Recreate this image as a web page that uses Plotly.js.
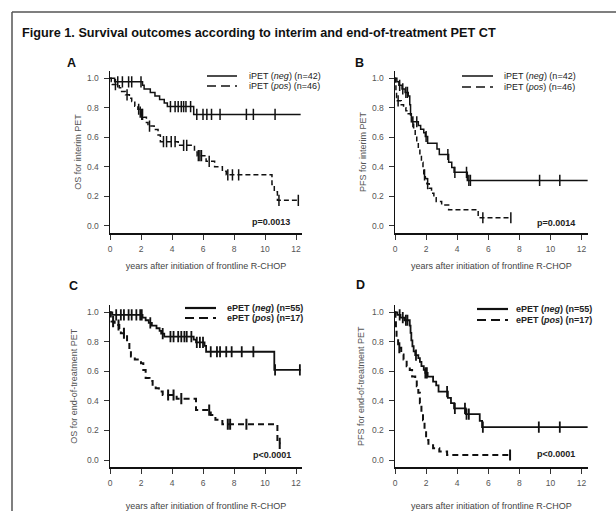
<!DOCTYPE html>
<html>
<head>
<meta charset="utf-8">
<script src="https://cdn.plot.ly/plotly-3.0.1.min.js"></script>
<style>html,body{margin:0;padding:0;background:#fff;}#chart{width:616px;height:511px;}</style>
</head>
<body>
<div id="chart"></div>
<script>
// ---------- DATA ----------
const figTitle = 'Figure 1. Survival outcomes according to interim and end-of-treatment PET CT';
const panelLetters = ['A', 'B', 'C', 'D'];
const yTitles = ['OS for interim PET', 'PFS for interim PET', 'OS for end-of-treatment PET', 'PFS for end-of-treatment PET'];
const xTitle = 'years after initiation of frontline R-CHOP';
const pValues = ['p=0.0013', 'p=0.0014', 'p&lt;0.0001', 'p&lt;0.0001'];
const legendAB = ['iPET (<i>neg</i>) (n=42)', 'iPET (<i>pos</i>) (n=46)'];
const legendCD = ['ePET (<i>neg</i>) (n=55)', 'ePET (<i>pos</i>) (n=17)'];
const xTicks = [0, 2, 4, 6, 8, 10, 12];
const yTicks = [0, 0.2, 0.4, 0.6, 0.8, 1.0];

// Panel A: OS, interim PET
const A_negTime = [0, 0.3, 2.1, 2.2, 2.6, 2.9, 3.2, 3.5, 3.7, 5.4, 12.3];
const A_negSurv = [1.0, 0.976, 0.952, 0.928, 0.904, 0.88, 0.856, 0.832, 0.808, 0.755, 0.755];
const A_negCens = [0.5, 0.8, 1.2, 1.4, 2.0, 3.9, 4.2, 4.4, 4.6, 4.75, 4.9, 5.2, 5.6, 6.0, 6.25, 6.55, 7.1, 8.8, 9.25, 10.65];
const A_posTime = [0, 0.08, 0.15, 0.6, 0.75, 1.0, 1.25, 1.4, 1.6, 1.8, 1.9, 2.0, 2.15, 2.35, 2.45, 2.85, 3.1, 3.25, 4.4, 5.45, 5.62, 6.2, 6.75, 7.25, 7.5, 10.45, 10.6, 10.8, 12.15];
const A_posSurv = [1.0, 0.978, 0.957, 0.935, 0.91, 0.888, 0.865, 0.843, 0.81, 0.79, 0.77, 0.755, 0.735, 0.70, 0.676, 0.652, 0.615, 0.57, 0.545, 0.50, 0.475, 0.437, 0.40, 0.37, 0.345, 0.28, 0.23, 0.172, 0.172];
const A_posCens = [0.35, 1.1, 1.85, 1.95, 2.05, 2.1, 2.55, 3.45, 3.65, 3.95, 4.2, 4.75, 4.95, 5.7, 5.8, 5.9, 6.4, 7.6, 7.9, 8.3, 10.9, 12.15];

// Panel B: PFS, interim PET
const B_negTime = [0, 0.12, 0.25, 0.45, 0.65, 0.85, 0.95, 1.0, 1.05, 1.5, 1.65, 1.85, 1.95, 2.1, 2.7, 2.85, 3.45, 3.65, 3.8, 4.65, 12.4];
const B_negSurv = [1.0, 0.976, 0.952, 0.928, 0.904, 0.88, 0.82, 0.76, 0.705, 0.68, 0.655, 0.63, 0.605, 0.56, 0.52, 0.483, 0.43, 0.395, 0.362, 0.307, 0.307];
const B_negCens = [0.3, 0.5, 0.7, 0.8, 1.15, 1.4, 2.0, 3.4, 3.85, 4.6, 4.75, 4.85, 9.3, 10.6];
const B_posTime = [0, 0.03, 0.06, 0.1, 0.15, 0.4, 0.55, 0.7, 0.85, 1.0, 1.1, 1.2, 1.3, 1.4, 1.5, 1.6, 1.7, 1.8, 1.85, 1.95, 2.05, 2.2, 2.35, 2.5, 2.65, 3.0, 3.45, 5.35, 7.45];
const B_posSurv = [1.0, 0.957, 0.913, 0.87, 0.847, 0.82, 0.80, 0.78, 0.76, 0.74, 0.70, 0.655, 0.61, 0.565, 0.52, 0.475, 0.43, 0.385, 0.345, 0.32, 0.285, 0.255, 0.22, 0.19, 0.165, 0.14, 0.108, 0.054, 0.054];
const B_posCens = [0.2, 1.9, 2.1, 5.65, 7.45];

// Panel C: OS, end-of-treatment PET
const C_negTime = [0, 0.15, 2.1, 2.3, 2.5, 2.7, 3.0, 3.2, 3.3, 3.5, 5.4, 5.55, 6.1, 6.2, 10.6, 12.3];
const C_negSurv = [1.0, 0.982, 0.964, 0.946, 0.928, 0.91, 0.892, 0.874, 0.856, 0.835, 0.815, 0.797, 0.772, 0.733, 0.61, 0.61];
const C_negCens = [0.4, 0.7, 0.9, 1.2, 1.4, 1.7, 1.95, 2.05, 2.6, 3.4, 3.9, 4.1, 4.4, 4.6, 4.8, 4.95, 5.25, 5.6, 5.8, 6.0, 6.5, 6.9, 7.1, 7.5, 7.85, 8.5, 9.25, 10.65, 12.25];
const C_posTime = [0, 0.05, 0.1, 0.3, 0.6, 0.7, 1.1, 1.25, 1.35, 1.6, 2.0, 2.15, 2.3, 2.55, 2.75, 2.95, 3.15, 3.4, 4.3, 5.55, 6.5, 6.8, 7.25, 10.8, 11.0];
const C_posSurv = [1.0, 0.96, 0.937, 0.914, 0.88, 0.858, 0.80, 0.745, 0.70, 0.68, 0.655, 0.61, 0.555, 0.535, 0.51, 0.486, 0.463, 0.44, 0.415, 0.338, 0.305, 0.272, 0.242, 0.113, 0.113];
const C_posCens = [0.2, 0.55, 0.9, 3.75, 4.1, 4.6, 6.4, 7.6, 7.75, 8.8, 10.95];

// Panel D: PFS, end-of-treatment PET
const D_negTime = [0, 0.15, 0.35, 0.6, 0.95, 1.0, 1.05, 1.12, 1.2, 1.3, 1.5, 1.6, 1.7, 1.85, 1.95, 2.1, 2.45, 2.65, 2.8, 3.4, 3.6, 3.8, 4.55, 5.45, 5.6, 12.4];
const D_negSurv = [1.0, 0.982, 0.964, 0.946, 0.91, 0.86, 0.81, 0.77, 0.735, 0.71, 0.69, 0.665, 0.635, 0.61, 0.59, 0.565, 0.53, 0.505, 0.463, 0.42, 0.385, 0.35, 0.31, 0.265, 0.222, 0.222];
const D_negCens = [0.3, 0.5, 0.7, 0.8, 1.35, 1.95, 2.05, 3.35, 3.85, 4.5, 4.6, 4.75, 5.65, 9.25, 10.6];
const D_posTime = [0, 0.03, 0.06, 0.1, 0.2, 0.4, 0.55, 0.75, 0.95, 1.1, 1.3, 1.4, 1.5, 1.6, 1.7, 1.8, 1.9, 2.0, 2.15, 2.45, 2.85, 3.35, 7.4];
const D_posSurv = [1.0, 0.94, 0.88, 0.82, 0.76, 0.715, 0.68, 0.635, 0.61, 0.565, 0.54, 0.5, 0.455, 0.385, 0.32, 0.27, 0.2, 0.135, 0.1, 0.08, 0.057, 0.034, 0.034];
const D_posCens = [0.28, 7.4];

// ---------- LAYOUT HELPERS ----------
const W = 616, H = 511;
const px = v => v / W;
const py = v => 1 - v / H;
const FONT = 'Liberation Sans, Arial, sans-serif';

function survAt(times, surv, t) {
  let v = surv[0];
  for (let i = 0; i < times.length; i++) { if (times[i] <= t) v = surv[i]; }
  return v;
}

const traces = [];
function addCurve(times, surv, cens, ax, dash, width) {
  const xa = ax === 1 ? 'x' : 'x' + ax;
  const ya = ax === 1 ? 'y' : 'y' + ax;
  traces.push({
    x: times, y: surv, mode: 'lines', xaxis: xa, yaxis: ya,
    line: {shape: 'hv', color: '#111', width: width, dash: dash},
    showlegend: false, hoverinfo: 'skip'
  });
  traces.push({
    x: cens, y: cens.map(t => survAt(times, surv, t)), mode: 'markers', xaxis: xa, yaxis: ya,
    marker: {symbol: 'line-ns', size: 8, color: '#111', line: {color: '#111', width: width}},
    showlegend: false, hoverinfo: 'skip'
  });
}
addCurve(A_negTime, A_negSurv, A_negCens, 1, 'solid', 1.5);
addCurve(A_posTime, A_posSurv, A_posCens, 1, '5px,3px', 1.5);
addCurve(B_negTime, B_negSurv, B_negCens, 2, 'solid', 1.5);
addCurve(B_posTime, B_posSurv, B_posCens, 2, '5px,3px', 1.5);
addCurve(C_negTime, C_negSurv, C_negCens, 3, 'solid', 1.8);
addCurve(C_posTime, C_posSurv, C_posCens, 3, '6px,4px', 2);
addCurve(D_negTime, D_negSurv, D_negCens, 4, 'solid', 1.8);
addCurve(D_posTime, D_posSurv, D_posCens, 4, '6px,4px', 2);

// panel pixel boxes: [left, right, top, bottom]
const boxes = [
  [110, 302.2, 70.9, 233.1],
  [395, 587.8, 70.9, 233.1],
  [110, 302.2, 304.9, 467.4],
  [395, 587.8, 304.9, 467.4]
];
const yStand = [4, 4, 8, 6];
const xStand = [10, 10, 17, 17];

const layout = {
  width: W, height: H,
  margin: {l: 0, r: 0, t: 0, b: 0, pad: 0},
  paper_bgcolor: '#fff', plot_bgcolor: 'rgba(0,0,0,0)',
  font: {family: FONT, color: '#333'},
  showlegend: false,
  shapes: [], annotations: []
};

boxes.forEach((b, i) => {
  const k = i === 0 ? '' : String(i + 1);
  layout['xaxis' + k] = {
    domain: [px(b[0]), px(b[1])], range: [0, 12.4], anchor: 'y' + k,
    tickvals: xTicks, ticks: 'outside', ticklen: 5, tickwidth: 1, tickcolor: '#333',
    showline: true, linecolor: '#111', linewidth: 1.5, showgrid: false, zeroline: false,
    tickfont: {family: FONT, size: 8.5, color: '#555'}, ticklabelstandoff: 2,
    title: {text: xTitle, font: {family: FONT, size: 9, color: '#444'}, standoff: xStand[i]},
    fixedrange: true
  };
  layout['yaxis' + k] = {
    domain: [py(b[3]), py(b[2])], range: [-0.05, 1.05], anchor: 'x' + k,
    tickvals: yTicks, tickformat: '.1f', ticks: 'outside', ticklen: 5, tickwidth: 1, tickcolor: '#333',
    showline: true, linecolor: '#111', linewidth: 1.5, showgrid: false, zeroline: false,
    tickfont: {family: FONT, size: 8.5, color: '#555'}, ticklabelstandoff: 3,
    title: {text: yTitles[i], font: {family: FONT, size: 9, color: '#555'}, standoff: yStand[i]},
    fixedrange: true
  };
});

// frame
layout.shapes.push({type: 'line', xref: 'paper', yref: 'paper', x0: px(12), x1: px(616), y0: py(12), y1: py(12), line: {color: '#555', width: 1.5}});
layout.shapes.push({type: 'line', xref: 'paper', yref: 'paper', x0: px(12), x1: px(12), y0: py(12), y1: py(511), line: {color: '#555', width: 1.5}});

// figure title
layout.annotations.push({xref: 'paper', yref: 'paper', x: px(20), y: py(33), xanchor: 'left', yanchor: 'middle',
  text: '<b>' + figTitle + '</b>', showarrow: false, font: {family: FONT, size: 12.7, color: '#111'}});

// panel letters
const letterPos = [[71, 63], [359, 63], [73, 286], [360, 285]];
panelLetters.forEach((L, i) => {
  layout.annotations.push({xref: 'paper', yref: 'paper', x: px(letterPos[i][0]), y: py(letterPos[i][1]),
    xanchor: 'center', yanchor: 'middle', text: '<b>' + L + '</b>', showarrow: false,
    font: {family: FONT, size: 12.5, color: '#111'}});
});

// p-values
const pPos = [[292, 222], [577, 223], [293, 455], [577, 454]];
pValues.forEach((p, i) => {
  layout.annotations.push({xref: 'paper', yref: 'paper', x: px(pPos[i][0]), y: py(pPos[i][1]),
    xanchor: 'right', yanchor: 'middle', text: '<b>' + p + '</b>', showarrow: false,
    font: {family: FONT, size: 9, color: '#222'}});
});

// legends (line sample + label)
const legPos = [
  {x0: 207, x1: 237, t: 247, y: [76, 86], lab: legendAB, w: 1.5, bold: false},
  {x0: 462, x1: 493, t: 502, y: [76, 87], lab: legendAB, w: 1.5, bold: false},
  {x0: 185, x1: 216, t: 225, y: [308, 318], lab: legendCD, w: 2.2, bold: true},
  {x0: 477, x1: 508, t: 514, y: [309, 320], lab: legendCD, w: 2.2, bold: true}
];
legPos.forEach(g => {
  [0, 1].forEach(j => {
    layout.shapes.push({type: 'line', xref: 'paper', yref: 'paper', x0: px(g.x0), x1: px(g.x1), y0: py(g.y[j]), y1: py(g.y[j]),
      line: {color: '#111', width: g.w, dash: j === 0 ? 'solid' : '9px,5px'}});
    const txt = g.bold ? '<b>' + g.lab[j] + '</b>' : g.lab[j];
    layout.annotations.push({xref: 'paper', yref: 'paper', x: px(g.t), y: py(g.y[j]), xanchor: 'left', yanchor: 'middle',
      text: txt, showarrow: false, font: {family: FONT, size: 9, color: '#222'}});
  });
});

Plotly.newPlot('chart', traces, layout, {displayModeBar: false, staticPlot: true});
</script>
</body>
</html>
